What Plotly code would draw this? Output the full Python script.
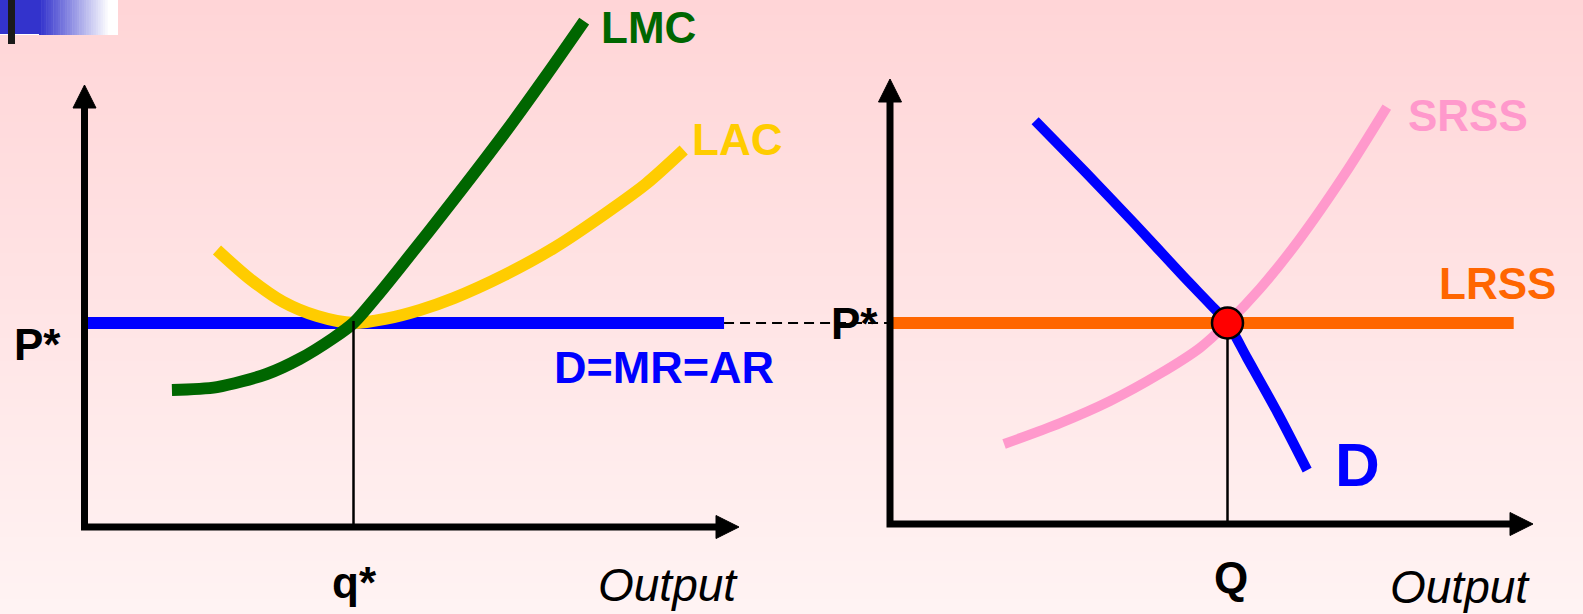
import plotly.graph_objects as go

W, H = 1583, 614

# ---------------- data: left panel (firm), units: output q, price p ----------------
P_STAR = 5.0
Q_STAR = 4.0
lmc_q = [1.30, 1.97, 2.71, 3.20, 3.70, 4.00, 4.34, 4.69, 5.49, 6.25, 6.85, 7.43]
lmc_p = [3.36, 3.43, 3.75, 4.12, 4.63, 5.00, 5.64, 6.35, 8.02, 9.66, 11.03, 12.40]
lac_q = [1.97, 2.46, 2.95, 3.46, 4.00, 4.47, 4.99, 5.49, 6.25, 7.00, 7.76, 8.35, 8.91]
lac_p = [6.79, 6.08, 5.52, 5.17, 5.00, 5.10, 5.32, 5.61, 6.18, 6.86, 7.70, 8.41, 9.24]
dmr_q = [0.0, 9.51]          # D = MR = AR (horizontal at P*)
dash_q = [9.51, 11.95]       # dashed link to the market P*

# ---------------- data: right panel (market) ----------------
Q_MKT = 5.0
d_q = [2.15, 2.89, 3.63, 4.34, 4.74, 5.00, 5.29, 5.75, 6.18]
d_p = [10.03, 8.76, 7.46, 6.17, 5.47, 5.00, 4.13, 2.74, 1.34]
srss_q = [1.69, 2.52, 3.26, 3.99, 4.59, 5.00, 5.48, 6.07, 6.74, 7.36]
srss_p = [1.99, 2.51, 3.06, 3.73, 4.38, 5.00, 5.85, 7.09, 8.71, 10.37]
lrss_q = [0.0, 9.24]

labels_left = ["LMC", "LAC", "D=MR=AR", "P*", "q*", "Output"]
labels_right = ["SRSS", "LRSS", "D", "P*", "Q", "Output"]

# ---------------- geometry (pixels) ----------------
L_OX, L_OY, L_SX, L_SY = 84.5, 527.0, 67.25, 40.8
R_OX, R_OY, R_SX, R_SY = 890.0, 524.0, 67.5, 40.2

BLUE = "#0000FF"
GREEN = "#006600"
YELLOW = "#FFCC00"
PINK = "#FF99CC"
ORANGE = "#FF6600"

fig = go.Figure()

def axes_traces(xa, ya, sx, sy, xtip, ytip):
    # axis lines (in panel units) and filled arrowheads
    head_len, head_half = 23.0, 11.5
    xt = xtip - head_len / sx
    yt = ytip - head_len / sy
    fig.add_trace(go.Scatter(x=[0, 0, xt], y=[yt, 0, 0], mode="lines",
                             line=dict(color="black", width=7), xaxis=xa, yaxis=ya,
                             hoverinfo="skip", showlegend=False))
    fig.add_trace(go.Scatter(x=[xt, xtip, xt, xt], y=[head_half / sy, 0, -head_half / sy, head_half / sy],
                             mode="lines", fill="toself", fillcolor="black",
                             line=dict(color="black", width=1), xaxis=xa, yaxis=ya,
                             hoverinfo="skip", showlegend=False))
    fig.add_trace(go.Scatter(x=[-head_half / sx, 0, head_half / sx, -head_half / sx], y=[yt, ytip, yt, yt],
                             mode="lines", fill="toself", fillcolor="black",
                             line=dict(color="black", width=1), xaxis=xa, yaxis=ya,
                             hoverinfo="skip", showlegend=False))

def line(x, y, color, width, xa, ya, dash=None, spline=True):
    ln = dict(color=color, width=width, dash=dash)
    if spline:
        ln.update(shape="spline", smoothing=0.8)
    fig.add_trace(go.Scatter(x=x, y=y, mode="lines", line=ln,
                             xaxis=xa, yaxis=ya, hoverinfo="skip", showlegend=False))

# ---- left panel ----
line(dmr_q, [P_STAR] * 2, BLUE, 12, "x", "y", spline=False)
line(dash_q, [P_STAR] * 2, "black", 2, "x", "y", dash="10px,6px", spline=False)
line(lac_q, lac_p, YELLOW, 12, "x", "y")
line(lmc_q, lmc_p, GREEN, 12, "x", "y")
line([Q_STAR, Q_STAR], [0, P_STAR + 0.05], "black", 2.5, "x", "y", spline=False)
axes_traces("x", "y", L_SX, L_SY, (739 - L_OX) / L_SX, (L_OY - 85) / L_SY)

# ---- right panel ----
line(srss_q, srss_p, PINK, 10, "x2", "y2")
line(lrss_q, [P_STAR] * 2, ORANGE, 12, "x2", "y2", spline=False)
line(d_q, d_p, BLUE, 10, "x2", "y2")
line([Q_MKT, Q_MKT], [0, P_STAR], "black", 2.5, "x2", "y2", spline=False)
axes_traces("x2", "y2", R_SX, R_SY, (1533 - R_OX) / R_SX, (R_OY - 79) / R_SY)
fig.add_trace(go.Scatter(x=[Q_MKT], y=[P_STAR], mode="markers",
                         marker=dict(size=31, color="#FF0000", line=dict(color="black", width=2.5)),
                         xaxis="x2", yaxis="y2", hoverinfo="skip", showlegend=False))

ax_common = dict(visible=False, fixedrange=True, domain=[0, 1])
fig.update_layout(
    width=W, height=H, margin=dict(l=0, r=0, t=0, b=0),
    paper_bgcolor="#FFE6E6", plot_bgcolor="rgba(0,0,0,0)",
    xaxis=dict(range=[-L_OX / L_SX, (W - L_OX) / L_SX], anchor="y", **ax_common),
    yaxis=dict(range=[-(H - L_OY) / L_SY, L_OY / L_SY], anchor="x", **ax_common),
    xaxis2=dict(range=[-R_OX / R_SX, (W - R_OX) / R_SX], anchor="y2", **ax_common),
    yaxis2=dict(range=[-(H - R_OY) / R_SY, R_OY / R_SY], anchor="x2", **ax_common),
    showlegend=False,
)

# ---- background gradient (decorative) ----
shapes = []
N = 80
top, bot = (255, 213, 215), (255, 243, 243)
for i in range(N):
    t = i / (N - 1)
    c = tuple(round(top[k] + (bot[k] - top[k]) * t) for k in range(3))
    shapes.append(dict(type="rect", xref="paper", yref="paper", x0=0, x1=1,
                       y0=1 - (i + 1) / N - 0.002, y1=1 - i / N,
                       fillcolor="rgb(%d,%d,%d)" % c, line=dict(width=0), layer="below"))

def px(x): return x / W
def py(y): return 1 - y / H

# top-left slide ornament
shapes.append(dict(type="rect", xref="paper", yref="paper", x0=px(0), x1=px(118), y0=py(35), y1=py(0),
                   fillcolor="white", line=dict(width=0), layer="below"))
M = 30
for i in range(M):
    t = i / (M - 1)
    c = (round(51 + (255 - 51) * t), round(51 + (255 - 51) * t), round(204 + (255 - 204) * t))
    x0 = 39 + (110 - 39) * i / M
    x1 = 39 + (110 - 39) * (i + 1) / M + 0.5
    shapes.append(dict(type="rect", xref="paper", yref="paper", x0=px(x0), x1=px(x1), y0=py(35), y1=py(0),
                       fillcolor="rgb(%d,%d,%d)" % c, line=dict(width=0), layer="below"))
shapes.append(dict(type="rect", xref="paper", yref="paper", x0=px(0), x1=px(40), y0=py(34), y1=py(0),
                   fillcolor="rgb(51,51,204)", line=dict(width=0), layer="below"))
shapes.append(dict(type="rect", xref="paper", yref="paper", x0=px(8), x1=px(15), y0=py(44), y1=py(0),
                   fillcolor="#1a1a1a", line=dict(width=0), layer="below"))
fig.update_layout(shapes=shapes)

# ---- text labels ----
def label(text, x, y, color, size, bold=True, italic=False):
    t = text
    if bold:
        t = "<b>" + t + "</b>"
    if italic:
        t = "<i>" + t + "</i>"
    fig.add_annotation(text=t, x=px(x), y=py(y), xref="paper", yref="paper",
                       xanchor="center", yanchor="middle", showarrow=False,
                       font=dict(family="Liberation Sans, Arial, sans-serif", size=size, color=color))

label(labels_left[0], 648, 27, GREEN, 44)
label(labels_left[1], 737, 139, YELLOW, 44)
label(labels_left[2], 664, 367, BLUE, 45)
label(labels_left[3], 37, 344, "black", 44)
label(labels_left[4], 354, 582, "black", 44)
label(labels_left[5], 668, 585, "black", 46, bold=False, italic=True)
label(labels_right[0], 1468, 116, PINK, 44)
label(labels_right[1], 1497, 283, ORANGE, 44)
label(labels_right[2], 1357, 464, BLUE, 62)
label(labels_right[3], 854, 323, "black", 44)
label(labels_right[4], 1231, 577, "black", 44)
label(labels_right[5], 1460, 587, "black", 46, bold=False, italic=True)

fig.write_html("out.html", config={"displayModeBar": False},
               post_script="document.body.style.margin='0px';document.body.style.overflow='hidden';")
